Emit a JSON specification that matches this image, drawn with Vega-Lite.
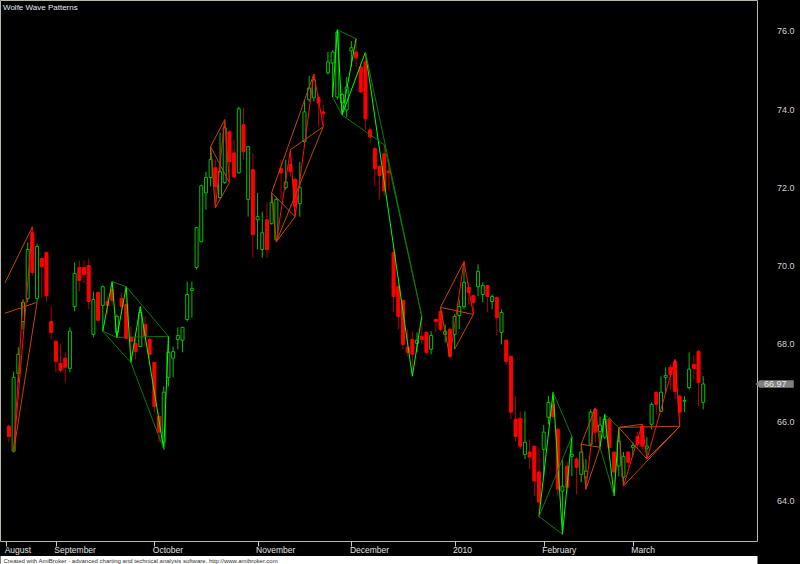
{
"$schema": "https://vega.github.io/schema/vega-lite/v6.json",
"width": 757, "height": 541,
"autosize": "none",
"padding": {"left": 0, "top": 0, "right": 43, "bottom": 23},
"background": "black",
"config": {"view": {"stroke": "#b8b8a8", "strokeWidth": 1, "fill": "black"}, "font": "Liberation Sans"},
"title": {"text": "Wolfe Wave Patterns", "anchor": "start", "orient": "top", "offset": -12, "fontSize": 8, "fontWeight": "normal", "color": "#e8e8e8", "dx": 3},
"datasets": {
"candles": [
{"i":0,"o":65.89,"h":65.94,"l":65.48,"c":65.63},
{"i":1,"o":65.25,"h":67.29,"l":65.22,"c":67.14},
{"i":2,"o":67.24,"h":67.91,"l":67.01,"c":67.73},
{"i":3,"o":68.57,"h":69.13,"l":68.37,"c":69.06},
{"i":4,"o":69.16,"h":70.59,"l":69.06,"c":70.41},
{"i":5,"o":70.84,"h":70.99,"l":69.75,"c":69.82},
{"i":6,"o":69.16,"h":70.56,"l":69.06,"c":70.49},
{"i":7,"o":70.18,"h":70.23,"l":69.18,"c":69.97},
{"i":8,"o":70.33,"h":70.36,"l":69.08,"c":69.23},
{"i":9,"o":68.57,"h":68.95,"l":68.11,"c":68.29},
{"i":10,"o":68.06,"h":68.11,"l":67.27,"c":67.55},
{"i":11,"o":67.50,"h":67.98,"l":67.27,"c":67.32},
{"i":12,"o":67.63,"h":67.78,"l":67.01,"c":67.40},
{"i":13,"o":67.37,"h":68.42,"l":67.27,"c":68.32},
{"i":14,"o":68.95,"h":70.08,"l":68.83,"c":69.80},
{"i":15,"o":69.95,"h":70.13,"l":69.34,"c":69.62},
{"i":16,"o":69.95,"h":70.13,"l":69.57,"c":69.77},
{"i":17,"o":70.00,"h":70.18,"l":68.88,"c":69.08},
{"i":18,"o":68.24,"h":69.34,"l":68.16,"c":69.13},
{"i":19,"o":69.31,"h":69.34,"l":68.54,"c":68.60},
{"i":20,"o":68.98,"h":69.49,"l":68.32,"c":69.46},
{"i":21,"o":69.08,"h":69.21,"l":68.75,"c":68.98},
{"i":22,"o":69.39,"h":69.59,"l":69.00,"c":69.11},
{"i":23,"o":68.29,"h":68.75,"l":68.16,"c":68.70},
{"i":24,"o":69.16,"h":69.31,"l":68.75,"c":68.95},
{"i":25,"o":69.00,"h":69.46,"l":68.11,"c":68.14},
{"i":26,"o":68.16,"h":68.44,"l":67.52,"c":68.06},
{"i":27,"o":68.01,"h":68.29,"l":67.60,"c":67.80},
{"i":28,"o":67.93,"h":68.95,"l":67.91,"c":68.80},
{"i":29,"o":68.49,"h":68.70,"l":67.93,"c":68.19},
{"i":30,"o":68.11,"h":68.16,"l":67.60,"c":67.73},
{"i":31,"o":67.52,"h":67.55,"l":66.25,"c":66.40},
{"i":32,"o":66.14,"h":66.25,"l":65.48,"c":65.74},
{"i":33,"o":65.48,"h":66.91,"l":65.30,"c":66.76},
{"i":34,"o":67.14,"h":68.19,"l":66.91,"c":67.78},
{"i":35,"o":67.63,"h":67.93,"l":67.14,"c":67.80},
{"i":36,"o":68.11,"h":68.42,"l":67.86,"c":68.21},
{"i":37,"o":68.09,"h":68.42,"l":67.78,"c":68.42},
{"i":38,"o":68.62,"h":69.59,"l":68.57,"c":69.26},
{"i":39,"o":69.36,"h":69.59,"l":68.67,"c":69.41},
{"i":40,"o":69.95,"h":70.99,"l":69.90,"c":70.97},
{"i":41,"o":70.61,"h":72.07,"l":70.59,"c":72.04},
{"i":42,"o":71.86,"h":72.40,"l":71.43,"c":72.25},
{"i":43,"o":72.25,"h":73.04,"l":72.02,"c":72.71},
{"i":44,"o":72.50,"h":72.71,"l":71.48,"c":72.02},
{"i":45,"o":71.74,"h":73.40,"l":71.69,"c":72.40},
{"i":46,"o":72.12,"h":73.73,"l":72.09,"c":73.52},
{"i":47,"o":73.42,"h":73.47,"l":72.12,"c":72.66},
{"i":48,"o":72.88,"h":73.22,"l":72.25,"c":72.27},
{"i":49,"o":72.37,"h":74.06,"l":72.35,"c":74.01},
{"i":50,"o":73.60,"h":74.03,"l":72.71,"c":72.91},
{"i":51,"o":71.69,"h":73.06,"l":71.25,"c":73.04},
{"i":52,"o":72.45,"h":72.88,"l":70.20,"c":70.79},
{"i":53,"o":71.17,"h":71.86,"l":70.41,"c":71.25},
{"i":54,"o":70.41,"h":71.38,"l":70.20,"c":70.84},
{"i":55,"o":71.17,"h":71.61,"l":70.20,"c":70.41},
{"i":56,"o":71.07,"h":71.86,"l":71.05,"c":71.61},
{"i":57,"o":70.66,"h":71.76,"l":70.61,"c":71.69},
{"i":58,"o":72.48,"h":72.71,"l":71.69,"c":72.37},
{"i":59,"o":71.99,"h":72.71,"l":71.94,"c":72.14},
{"i":60,"o":72.58,"h":72.96,"l":72.27,"c":72.40},
{"i":61,"o":72.20,"h":72.25,"l":71.25,"c":71.51},
{"i":62,"o":71.58,"h":72.65,"l":71.25,"c":71.99},
{"i":63,"o":73.17,"h":74.24,"l":73.14,"c":73.93},
{"i":64,"o":74.24,"h":74.85,"l":74.19,"c":74.54},
{"i":65,"o":74.29,"h":74.90,"l":74.19,"c":74.75},
{"i":66,"o":74.29,"h":74.37,"l":73.55,"c":74.16},
{"i":67,"o":73.93,"h":74.11,"l":73.55,"c":73.88},
{"i":68,"o":74.93,"h":75.46,"l":74.88,"c":75.21},
{"i":69,"o":75.18,"h":75.51,"l":74.31,"c":75.46},
{"i":70,"o":74.31,"h":76.03,"l":74.24,"c":75.97},
{"i":71,"o":74.16,"h":74.42,"l":73.85,"c":74.37},
{"i":72,"o":73.98,"h":74.82,"l":73.80,"c":74.57},
{"i":73,"o":75.49,"h":75.74,"l":75.08,"c":75.57},
{"i":74,"o":75.46,"h":75.80,"l":75.08,"c":75.31},
{"i":75,"o":75.08,"h":75.18,"l":74.42,"c":74.44},
{"i":76,"o":75.21,"h":75.46,"l":73.47,"c":73.75},
{"i":77,"o":73.47,"h":73.52,"l":73.14,"c":73.29},
{"i":78,"o":72.99,"h":73.04,"l":72.02,"c":72.48},
{"i":79,"o":72.53,"h":72.58,"l":71.69,"c":72.30},
{"i":80,"o":72.86,"h":73.09,"l":71.76,"c":71.91},
{"i":81,"o":72.42,"h":72.71,"l":71.94,"c":72.37},
{"i":82,"o":70.33,"h":70.49,"l":68.80,"c":69.21},
{"i":83,"o":69.46,"h":69.57,"l":68.37,"c":68.70},
{"i":84,"o":69.11,"h":69.13,"l":67.86,"c":67.98},
{"i":85,"o":67.91,"h":68.37,"l":67.68,"c":67.78},
{"i":86,"o":68.11,"h":68.32,"l":67.17,"c":67.73},
{"i":87,"o":68.01,"h":68.29,"l":67.78,"c":68.09},
{"i":88,"o":68.19,"h":68.70,"l":67.98,"c":68.11},
{"i":89,"o":68.29,"h":68.32,"l":67.73,"c":67.78},
{"i":90,"o":67.86,"h":68.32,"l":67.73,"c":68.21},
{"i":91,"o":68.62,"h":68.65,"l":68.29,"c":68.57},
{"i":92,"o":68.83,"h":68.93,"l":68.32,"c":68.37},
{"i":93,"o":68.24,"h":68.49,"l":68.03,"c":68.32},
{"i":94,"o":68.37,"h":68.42,"l":67.65,"c":67.68},
{"i":95,"o":68.24,"h":68.75,"l":67.86,"c":68.70},
{"i":96,"o":68.72,"h":69.13,"l":68.37,"c":68.95},
{"i":97,"o":68.95,"h":70.10,"l":68.88,"c":69.57},
{"i":98,"o":69.44,"h":69.57,"l":69.00,"c":69.31},
{"i":99,"o":69.23,"h":69.26,"l":68.75,"c":69.06},
{"i":100,"o":69.46,"h":70.03,"l":69.21,"c":69.85},
{"i":101,"o":69.26,"h":69.57,"l":69.06,"c":69.49},
{"i":102,"o":69.49,"h":69.51,"l":68.80,"c":69.21},
{"i":103,"o":69.08,"h":69.26,"l":68.88,"c":69.21},
{"i":104,"o":69.18,"h":69.21,"l":68.21,"c":68.67},
{"i":105,"o":68.29,"h":68.88,"l":67.98,"c":68.80},
{"i":106,"o":68.09,"h":68.11,"l":67.47,"c":67.55},
{"i":107,"o":67.68,"h":67.68,"l":66.07,"c":66.25},
{"i":108,"o":66.07,"h":66.66,"l":65.51,"c":65.63},
{"i":109,"o":66.09,"h":66.27,"l":65.30,"c":65.38},
{"i":110,"o":65.17,"h":66.27,"l":65.05,"c":65.48},
{"i":111,"o":65.23,"h":65.56,"l":64.79,"c":65.10},
{"i":112,"o":65.38,"h":65.38,"l":64.10,"c":64.49},
{"i":113,"o":64.72,"h":65.35,"l":63.58,"c":63.95},
{"i":114,"o":65.30,"h":65.92,"l":64.61,"c":65.74},
{"i":115,"o":66.12,"h":66.66,"l":65.94,"c":66.50},
{"i":116,"o":66.45,"h":66.76,"l":66.07,"c":66.14},
{"i":117,"o":65.81,"h":65.86,"l":64.10,"c":64.28},
{"i":118,"o":64.23,"h":65.05,"l":63.13,"c":64.36},
{"i":119,"o":64.87,"h":64.97,"l":64.21,"c":64.33},
{"i":120,"o":65.12,"h":65.63,"l":64.61,"c":65.17},
{"i":121,"o":65.05,"h":65.10,"l":64.15,"c":64.84},
{"i":122,"o":64.66,"h":65.43,"l":64.46,"c":65.23},
{"i":123,"o":64.59,"h":65.05,"l":64.28,"c":64.74},
{"i":124,"o":65.43,"h":66.32,"l":65.38,"c":66.25},
{"i":125,"o":66.32,"h":66.36,"l":65.48,"c":65.74},
{"i":126,"o":65.76,"h":66.14,"l":65.35,"c":65.92},
{"i":127,"o":65.61,"h":66.19,"l":65.56,"c":66.07},
{"i":128,"o":66.07,"h":66.12,"l":65.23,"c":65.35},
{"i":129,"o":65.23,"h":65.25,"l":64.11,"c":64.72},
{"i":130,"o":64.87,"h":65.86,"l":64.61,"c":65.51},
{"i":131,"o":64.59,"h":65.23,"l":64.36,"c":65.12},
{"i":132,"o":65.23,"h":65.25,"l":64.84,"c":64.97},
{"i":133,"o":65.35,"h":65.48,"l":65.12,"c":65.40},
{"i":134,"o":65.63,"h":65.74,"l":65.30,"c":65.43},
{"i":135,"o":65.89,"h":65.94,"l":65.30,"c":65.38},
{"i":136,"o":65.33,"h":65.61,"l":65.05,"c":65.38},
{"i":137,"o":65.94,"h":66.50,"l":65.81,"c":66.45},
{"i":138,"o":66.76,"h":66.78,"l":66.20,"c":66.45},
{"i":139,"o":66.27,"h":67.17,"l":66.25,"c":66.76},
{"i":140,"o":67.14,"h":67.40,"l":66.76,"c":67.19},
{"i":141,"o":67.40,"h":67.47,"l":66.83,"c":67.22},
{"i":142,"o":67.55,"h":67.60,"l":66.58,"c":66.78},
{"i":143,"o":66.66,"h":66.71,"l":65.89,"c":66.25},
{"i":144,"o":66.53,"h":66.66,"l":66.25,"c":66.55},
{"i":145,"o":66.88,"h":67.78,"l":66.83,"c":67.35},
{"i":146,"o":67.47,"h":67.70,"l":67.09,"c":67.37},
{"i":147,"o":67.80,"h":67.86,"l":66.40,"c":67.01},
{"i":148,"o":66.50,"h":67.17,"l":66.32,"c":66.97}
],
"waves": [
{"kind":"frameA","i1":-0.84,"p1":69.56,"i2":5,"p2":70.99},
{"kind":"frameA","i1":-0.84,"p1":68.78,"i2":6,"p2":69.06},
{"kind":"waveA","i1":1,"p1":65.25,"i2":5,"p2":70.99},
{"kind":"frameA","i1":1,"p1":65.25,"i2":6,"p2":69.06},
{"kind":"waveA","i1":1,"p1":65.25,"i2":3,"p2":69.13},
{"kind":"waveB","i1":20,"p1":68.32,"i2":22,"p2":69.59},
{"kind":"waveB","i1":22,"p1":69.59,"i2":23,"p2":68.16},
{"kind":"waveB","i1":23,"p1":68.16,"i2":25,"p2":69.46},
{"kind":"waveB","i1":25,"p1":69.46,"i2":26,"p2":67.52},
{"kind":"waveB","i1":26,"p1":67.52,"i2":28,"p2":68.95},
{"kind":"waveB","i1":28,"p1":68.95,"i2":33,"p2":65.30},
{"kind":"waveB","i1":33,"p1":65.30,"i2":34,"p2":68.19},
{"kind":"frameB","i1":22,"p1":69.59,"i2":25,"p2":69.46},
{"kind":"frameB","i1":25,"p1":69.46,"i2":34,"p2":68.19},
{"kind":"frameB","i1":20,"p1":68.32,"i2":23,"p2":68.16},
{"kind":"frameB","i1":23,"p1":68.16,"i2":34,"p2":68.19},
{"kind":"frameB","i1":26,"p1":67.52,"i2":33,"p2":65.30},
{"kind":"frameB","i1":20,"p1":68.32,"i2":26,"p2":67.52},
{"kind":"frameA","i1":43,"p1":73.04,"i2":46,"p2":73.73},
{"kind":"frameA","i1":43,"p1":73.04,"i2":47,"p2":72.12},
{"kind":"frameA","i1":44,"p1":71.48,"i2":47,"p2":72.12},
{"kind":"frameA","i1":43,"p1":73.04,"i2":44,"p2":71.48},
{"kind":"waveA","i1":44,"p1":71.48,"i2":46,"p2":73.73},
{"kind":"waveA","i1":46,"p1":73.73,"i2":47,"p2":72.12},
{"kind":"frameA","i1":56,"p1":71.86,"i2":65,"p2":74.90},
{"kind":"frameA","i1":56,"p1":71.86,"i2":61,"p2":71.25},
{"kind":"frameA","i1":57,"p1":70.61,"i2":61,"p2":71.25},
{"kind":"frameA","i1":57,"p1":70.61,"i2":67,"p2":73.55},
{"kind":"frameA","i1":60,"p1":72.96,"i2":67,"p2":73.55},
{"kind":"frameA","i1":56,"p1":71.86,"i2":57,"p2":70.61},
{"kind":"waveA","i1":57,"p1":70.61,"i2":60,"p2":72.96},
{"kind":"waveA","i1":60,"p1":72.96,"i2":61,"p2":71.25},
{"kind":"waveA","i1":61,"p1":71.25,"i2":65,"p2":74.90},
{"kind":"waveA","i1":65,"p1":74.90,"i2":67,"p2":73.55},
{"kind":"waveB","i1":69,"p1":74.31,"i2":70,"p2":76.03},
{"kind":"waveB","i1":70,"p1":76.03,"i2":71,"p2":73.85},
{"kind":"waveB","i1":71,"p1":73.85,"i2":74,"p2":75.80},
{"kind":"waveB","i1":71,"p1":73.85,"i2":76,"p2":75.46},
{"kind":"waveB","i1":76,"p1":75.46,"i2":86,"p2":67.17},
{"kind":"waveB","i1":86,"p1":67.17,"i2":88,"p2":68.70},
{"kind":"frameB","i1":70,"p1":76.03,"i2":74,"p2":75.80},
{"kind":"frameB","i1":69,"p1":74.31,"i2":71,"p2":73.85},
{"kind":"frameB","i1":71,"p1":73.85,"i2":80,"p2":73.09},
{"kind":"frameB","i1":76,"p1":75.46,"i2":88,"p2":68.70},
{"kind":"frameB","i1":80,"p1":73.09,"i2":88,"p2":68.70},
{"kind":"frameA","i1":92,"p1":68.93,"i2":97,"p2":70.10},
{"kind":"frameA","i1":92,"p1":68.93,"i2":99,"p2":68.75},
{"kind":"frameA","i1":92,"p1":68.93,"i2":94,"p2":67.65},
{"kind":"waveA","i1":94,"p1":67.65,"i2":97,"p2":70.10},
{"kind":"waveA","i1":97,"p1":70.10,"i2":99,"p2":68.75},
{"kind":"frameA","i1":95,"p1":67.86,"i2":99,"p2":68.75},
{"kind":"waveB","i1":113,"p1":63.58,"i2":116,"p2":66.76},
{"kind":"waveB","i1":116,"p1":66.76,"i2":118,"p2":63.13},
{"kind":"waveB","i1":118,"p1":63.13,"i2":120,"p2":65.63},
{"kind":"frameB","i1":113,"p1":63.58,"i2":118,"p2":63.13},
{"kind":"frameB","i1":116,"p1":66.76,"i2":120,"p2":65.63},
{"kind":"frameB","i1":113,"p1":63.58,"i2":120,"p2":65.63},
{"kind":"frameA","i1":122,"p1":65.43,"i2":125,"p2":66.36},
{"kind":"frameA","i1":122,"p1":65.43,"i2":126,"p2":65.35},
{"kind":"frameA","i1":123,"p1":64.28,"i2":126,"p2":65.35},
{"kind":"frameA","i1":122,"p1":65.43,"i2":123,"p2":64.28},
{"kind":"waveA","i1":123,"p1":64.28,"i2":125,"p2":66.36},
{"kind":"waveA","i1":125,"p1":66.36,"i2":126,"p2":65.35},
{"kind":"waveB","i1":126,"p1":65.35,"i2":127,"p2":66.19},
{"kind":"waveB","i1":127,"p1":66.19,"i2":129,"p2":64.11},
{"kind":"waveB","i1":129,"p1":64.11,"i2":130,"p2":65.86},
{"kind":"frameB","i1":127,"p1":66.19,"i2":130,"p2":65.86},
{"kind":"frameB","i1":126,"p1":65.35,"i2":129,"p2":64.11},
{"kind":"frameA","i1":130,"p1":65.86,"i2":143,"p2":65.89},
{"kind":"frameA","i1":130,"p1":65.86,"i2":136,"p2":65.05},
{"kind":"frameA","i1":131,"p1":64.36,"i2":143,"p2":65.89},
{"kind":"frameA","i1":136,"p1":65.05,"i2":143,"p2":65.89},
{"kind":"frameA","i1":130,"p1":65.86,"i2":135,"p2":65.94},
{"kind":"frameA","i1":130,"p1":65.86,"i2":131,"p2":64.36},
{"kind":"waveA","i1":131,"p1":64.36,"i2":135,"p2":65.94},
{"kind":"waveA","i1":135,"p1":65.94,"i2":136,"p2":65.05},
{"kind":"waveA","i1":136,"p1":65.05,"i2":142,"p2":67.60},
{"kind":"waveA","i1":142,"p1":67.60,"i2":143,"p2":65.89}
]
},
"layer": [
{
"data": {"name": "candles"},
"mark": {"type": "rule", "strokeWidth": 1},
"encoding": {
"x": {"field": "i", "type": "quantitative", "scale": {"domain": [-0.84, 158.4], "nice": false, "zero": false},
 "axis": {"orient": "bottom", "values": [-0.6, 10, 31, 53, 73, 95, 114, 133], "labelExpr": "datum.value < 0 ? 'August' : datum.value == 10 ? 'September' : datum.value == 31 ? 'October' : datum.value == 53 ? 'November' : datum.value == 73 ? 'December' : datum.value == 95 ? '2010' : datum.value == 114 ? 'February' : 'March'", "domain": false, "grid": false, "ticks": true, "tickSize": 5, "tickColor": "#c8c8c8", "labelAlign": "left", "labelOffset": -2, "labelPadding": 3, "labelBaseline": "middle", "labelFontSize": 8.5, "labelColor": "#e0e0e0", "labelFlush": false, "labelOverlap": false, "title": null}},
"y": {"field": "l", "type": "quantitative", "scale": {"domain": [62.955, 76.791], "nice": false, "zero": false},
 "axis": {"orient": "right", "values": [64, 66, 68, 70, 72, 74, 76], "format": ".1f", "domain": false, "ticks": false, "tickSize": 0, "grid": false, "labelAlign": "right", "labelPadding": 37, "labelFontSize": 9, "labelColor": "#d0d0d0", "title": null}},
"y2": {"field": "h"},
"color": {"condition": {"test": "datum.c >= datum.o", "value": "#00c000"}, "value": "#b00000"}
}
},
{
"data": {"name": "candles"},
"mark": {"type": "bar", "size": 3, "strokeWidth": 1},
"encoding": {
"x": {"field": "i", "type": "quantitative", "axis": null},
"y": {"field": "o", "type": "quantitative"},
"y2": {"field": "c"},
"fill": {"condition": {"test": "datum.c >= datum.o", "value": "black"}, "value": "#ff0000"},
"stroke": {"condition": {"test": "datum.c >= datum.o", "value": "#00c000"}, "value": "#ff0000"}
}
},
{
"data": {"name": "waves"},
"mark": {"type": "rule", "strokeWidth": 1},
"encoding": {
"x": {"field": "i1", "type": "quantitative", "axis": null},
"y": {"field": "p1", "type": "quantitative"},
"x2": {"field": "i2"},
"y2": {"field": "p2"},
"color": {"field": "kind", "type": "nominal", "scale": {"domain": ["frameA", "waveA", "frameB", "waveB"], "range": ["#c04800", "#ff1010", "#0a7a0a", "#00ff00"]}, "legend": null}
}
},
{
"data": {"name": "candles"},
"transform": [{"filter": "datum.i == 148"}],
"mark": {"type": "point", "shape": "M -1 0 L -0.8 -0.2 L 1 -0.2 L 1 0.2 L -0.8 0.2 Z", "filled": true, "size": 1444, "color": "#808080", "opacity": 1, "xOffset": 71.5, "clip": false},
"encoding": {
"x": {"field": "i", "type": "quantitative", "axis": null},
"y": {"field": "c", "type": "quantitative"}
}
},
{
"data": {"name": "candles"},
"transform": [{"filter": "datum.i == 148"}],
"mark": {"type": "text", "dx": 72, "fontSize": 9, "color": "#e8e8e8", "align": "center", "baseline": "middle", "clip": false},
"encoding": {
"x": {"field": "i", "type": "quantitative",
 "axis": {"orient": "bottom", "offset": 19, "domain": true, "domainColor": "white", "domainWidth": 9, "labels": false, "ticks": false, "grid": false,
  "title": "Created with AmiBroker - advanced charting and technical analysis software. http://www.amibroker.com",
  "titleX": 3, "titleY": 0, "titleAnchor": "start", "titleAlign": "left", "titleBaseline": "middle", "titleFontSize": 6, "titleFontWeight": "normal", "titleColor": "#303030"}},
"y": {"field": "c", "type": "quantitative"},
"text": {"field": "c", "format": ".2f"}
}
}
],
"resolve": {"axis": {"x": "independent"}}
}
